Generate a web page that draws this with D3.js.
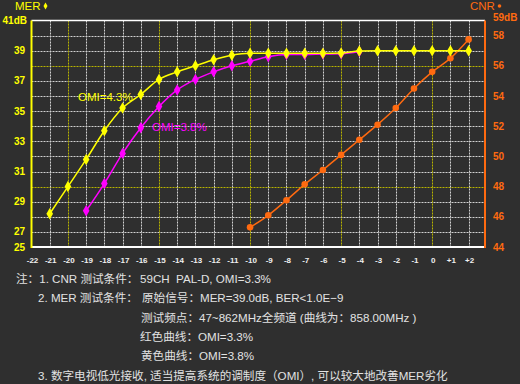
<!DOCTYPE html>
<html lang="zh">
<head>
<meta charset="utf-8"/>
<title>MER / CNR</title>
<script src="https://d3js.org/d3.v7.min.js"></script>
<style>
  html, body { margin: 0; padding: 0; background: #2f2f2f; }
  svg { display: block; }
  text { font-family: "Liberation Sans", Arial, "Noto Sans CJK SC", sans-serif; white-space: pre; }
</style>
</head>
<body>
<div id="chart"></div>
<script>
  // x axis: optical input power steps
  const xTicks = [-22, -21, -20, -19, -18, -17, -16, -15, -14, -13, -12, -11, -10, -9, -8, -7, -6, -5, -4, -3, -2, -1, 0, 1, 2];
  const xTickLabels = ["-22", "-21", "-20", "-19", "-18", "-17", "-16", "-15", "-14", "-13", "-12", "-11", "-10", "-9", "-8", "-7", "-6", "-5", "-4", "-3", "-2", "-1", "0", "+1", "+2"];
  const xMajor = [-20, -15, -10, -5, 0];

  // left axis (MER), bottom is compressed: 25 sits one step below 27
  const merTicks = [25, 27, 29, 31, 33, 35, 37, 39, 41];
  const merTickLabels = ["25", "27", "29", "31", "33", "35", "37", "39", "41dB"];

  // right axis (CNR)
  const cnrTicks = [44, 46, 48, 50, 52, 54, 56, 58, 59];
  const cnrTickLabels = ["44", "46", "48", "50", "52", "54", "56", "58", "59dB"];
  const cnrGrid = [45, 46, 47, 48, 49, 50, 51, 52, 53, 54, 55, 56, 57, 58];
  const cnrMajor = [48, 56];

  // MER, OMI=4.3% (yellow)
  const merYellowX = [-21, -20, -19, -18, -17, -16, -15, -14, -13, -12, -11, -10, -9, -8, -7, -6, -5, -4, -3, -2, -1, 0, 1, 2];
  const merYellow = [28.2, 30.0, 31.8, 33.7, 35.2, 36.1, 37.1, 37.6, 38.0, 38.4, 38.7, 38.83, 38.83, 38.83, 38.83, 38.83, 38.85, 38.98, 39.0, 39.0, 39.0, 39.0, 39.0, 39.0];

  // MER, OMI=3.8% (magenta)
  const merMagentaX = [-19, -18, -17, -16, -15, -14, -13, -12, -11, -10, -9, -8, -7, -6, -5, -4];
  const merMagenta = [28.4, 30.2, 32.2, 33.9, 35.3, 36.4, 37.1, 37.6, 38.0, 38.3, 38.6, 38.75, 38.75, 38.78, 38.8, 38.95];

  // CNR (orange)
  const cnrX = [-10, -9, -8, -7, -6, -5, -4, -3, -2, -1, 0, 1, 2];
  const cnr = [45.3, 46.1, 47.1, 48.15, 49.1, 50.1, 51.1, 52.1, 53.2, 54.5, 55.6, 56.5, 57.75];

  // notes under the chart: row, left edge, text
  const notes = [
    { row: 0, x: 16, text: "注：1. CNR 测试条件：" },
    { row: 0, x: 140, text: "59CH  PAL-D, OMI=3.3%" },
    { row: 1, x: 38, text: "2. MER 测试条件：" },
    { row: 1, x: 142, text: "原始信号：MER=39.0dB, BER<1.0E−9" },
    { row: 2, x: 141, text: "测试频点：47~862MHz全频道 (曲线为：858.00MHz )" },
    { row: 3, x: 140, text: "红色曲线：OMI=3.3%" },
    { row: 4, x: 141, text: "黄色曲线：OMI=3.8%" },
    { row: 5, x: 38, text: "3. 数字电视低光接收, 适当提高系统的调制度（OMI）, 可以较大地改善MER劣化" }
  ];

  const width = 520;
  const height = 384;
  const plotLeft = 31.5, plotRight = 485, plotTop = 20.5, plotBottom = 247;

  const YELLOW = "#ffff00";
  const MAGENTA = "#ff00ff";
  const ORANGE = "#ff6a10";

  const svg = d3.select("#chart").append("svg")
      .attr("width", width)
      .attr("height", height);

  svg.append("rect")
      .attr("width", width)
      .attr("height", height)
      .attr("fill", "#2f2f2f");

  const x = d3.scaleLinear().domain([-22, 2.9]).range([plotLeft, plotRight]);
  const yR = d3.scaleLinear().domain([44, 59]).range([plotBottom, plotTop]);
  const step = (plotBottom - plotTop) / 15;
  const yL = d3.scaleLinear().domain([25, 27, 41]).range([plotBottom, plotBottom - step, plotTop]);

  // grid (dotted)
  const grid = svg.append("g");
  grid.selectAll("line.h")
    .data(cnrGrid)
    .join("line")
      .attr("class", "h")
      .attr("x1", plotLeft).attr("x2", plotRight)
      .attr("y1", d => Math.round(yR(d)) + 0.5).attr("y2", d => Math.round(yR(d)) + 0.5)
      .attr("stroke", d => cnrMajor.includes(d) ? "#b8b400" : "#d2d2d2")
      .attr("stroke-dasharray", "2,1")
      .attr("stroke-width", 1);

  grid.selectAll("line.v")
    .data(xTicks.slice(1))
    .join("line")
      .attr("class", "v")
      .attr("x1", d => Math.round(x(d)) + 0.5).attr("x2", d => Math.round(x(d)) + 0.5)
      .attr("y1", plotTop).attr("y2", plotBottom)
      .attr("stroke", d => xMajor.includes(d) ? "#b8b400" : "#d2d2d2")
      .attr("stroke-dasharray", "2,1")
      .attr("stroke-width", 1);

  // frame
  svg.append("line")
      .attr("x1", plotLeft).attr("x2", plotRight).attr("y1", plotTop).attr("y2", plotTop)
      .attr("stroke", "#ffffff").attr("stroke-width", 1.5);
  svg.append("line")
      .attr("x1", plotLeft).attr("x2", plotRight).attr("y1", plotBottom).attr("y2", plotBottom)
      .attr("stroke", "#ffffff").attr("stroke-width", 2);
  svg.append("line")
      .attr("x1", plotLeft).attr("x2", plotLeft).attr("y1", plotTop).attr("y2", plotBottom + 1)
      .attr("stroke", YELLOW).attr("stroke-width", 2);
  svg.append("line")
      .attr("x1", plotRight).attr("x2", plotRight).attr("y1", plotTop).attr("y2", plotBottom + 1)
      .attr("stroke", ORANGE).attr("stroke-width", 2);

  // axis labels
  svg.append("g").selectAll("text")
    .data(merTicks)
    .join("text")
      .attr("x", (d, i) => i === merTicks.length - 1 ? 27 : 25)
      .attr("y", d => yL(d))
      .attr("dy", "0.35em")
      .attr("text-anchor", "end")
      .attr("fill", YELLOW)
      .attr("font-size", 10)
      .attr("font-weight", "bold")
      .text((d, i) => merTickLabels[i]);

  svg.append("g").selectAll("text")
    .data(cnrTicks)
    .join("text")
      .attr("x", 493)
      .attr("y", d => yR(d) + (d === 59 ? -3 : 0))
      .attr("dy", "0.35em")
      .attr("fill", ORANGE)
      .attr("font-size", 10)
      .attr("font-weight", "bold")
      .text((d, i) => cnrTickLabels[i]);

  svg.append("g").selectAll("text")
    .data(xTicks)
    .join("text")
      .attr("x", d => x(d) + 1)
      .attr("y", 260)
      .attr("dy", "0.35em")
      .attr("text-anchor", "middle")
      .attr("fill", "#f0f0f0")
      .attr("font-size", 8)
      .attr("font-weight", "bold")
      .text((d, i) => xTickLabels[i]);

  svg.append("text")
      .attr("x", 15).attr("y", 10)
      .attr("fill", YELLOW)
      .attr("font-size", 11.5)
      .text("MER");
  svg.append("path")
      .attr("d", d3.symbol(d3.symbolDiamond, 14)())
      .attr("transform", "translate(45.5,6)")
      .attr("fill", YELLOW);

  svg.append("text")
      .attr("x", 470).attr("y", 10)
      .attr("fill", ORANGE)
      .attr("font-size", 11.5)
      .text("CNR");
  svg.append("circle")
      .attr("cx", 499.5).attr("cy", 6)
      .attr("r", 1.8)
      .attr("fill", ORANGE);

  // series
  function drawSeries(xs, ys, yScale, color, symbolType, size) {
    const pts = xs.map((d, i) => [x(d), yScale(ys[i])]);
    svg.append("path")
        .datum(pts)
        .attr("fill", "none")
        .attr("stroke", color)
        .attr("stroke-width", 1.5)
        .attr("d", d3.line().curve(d3.curveMonotoneX));
    svg.append("g").selectAll("path")
      .data(pts)
      .join("path")
        .attr("transform", d => `translate(${d[0]},${d[1]})`)
        .attr("d", d3.symbol(symbolType, size)())
        .attr("fill", color);
  }

  drawSeries(cnrX, cnr, yR, ORANGE, d3.symbolCircle, 34);
  drawSeries(merMagentaX, merMagenta, yL, MAGENTA, d3.symbolDiamond, 38);
  drawSeries(merYellowX, merYellow, yL, YELLOW, d3.symbolDiamond, 38);

  svg.append("text")
      .attr("x", 78).attr("y", 100.5)
      .attr("fill", YELLOW)
      .attr("font-size", 11.5)
      .text("OMI=4.3%");
  svg.append("text")
      .attr("x", 152).attr("y", 131)
      .attr("fill", MAGENTA)
      .attr("font-size", 11.5)
      .text("OMI=3.8%");

  // notes
  svg.append("g").selectAll("text")
    .data(notes)
    .join("text")
      .attr("x", d => d.x)
      .attr("y", d => 279 + d.row * 19.3)
      .attr("dy", "0.36em")
      .attr("fill", "#e2e2e2")
      .attr("font-size", 11.6)
      .text(d => d.text);
</script>
</body>
</html>
